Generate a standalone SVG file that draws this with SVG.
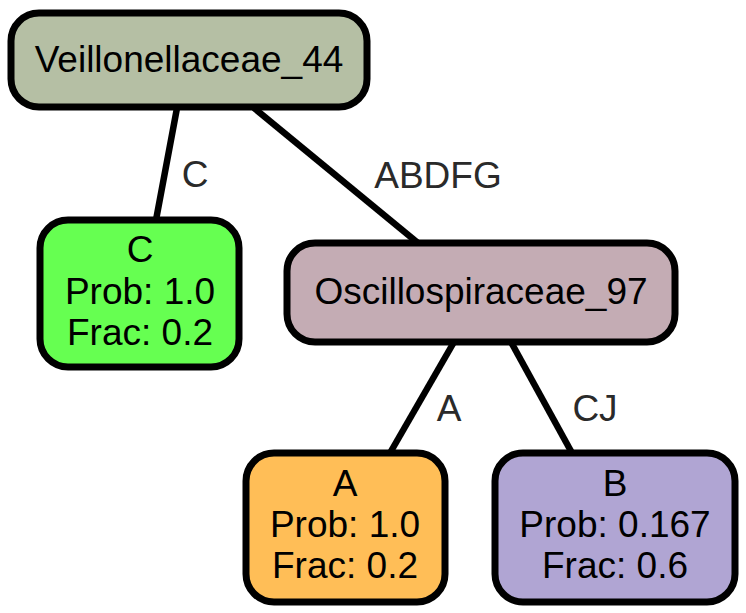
<svg xmlns="http://www.w3.org/2000/svg" width="746" height="613" viewBox="0 0 746 613">
  <style>
    .node rect { stroke: #000; stroke-width: 7; }
    .node text { font-family: "Liberation Sans", Arial, Helvetica, sans-serif; font-size: 37px; fill: #000; text-anchor: middle; }
    .edge line { stroke: #000; stroke-width: 6.5; }
    .elabel { font-family: "Liberation Sans", Arial, Helvetica, sans-serif; font-size: 37px; fill: #2a2a2a; text-anchor: middle; }
  </style>
  <rect width="746" height="613" fill="#fff"/>
  <g id="edges">
    <g class="edge">
      <line x1="177" y1="108" x2="156" y2="220"/>
      <text class="elabel" x="195" y="187">C</text>
    </g>
    <g class="edge">
      <line x1="254" y1="108" x2="418" y2="243"/>
      <text class="elabel" x="438" y="188">ABDFG</text>
    </g>
    <g class="edge">
      <line x1="454" y1="342" x2="390" y2="453"/>
      <text class="elabel" x="449" y="421">A</text>
    </g>
    <g class="edge">
      <line x1="511" y1="342" x2="572" y2="453"/>
      <text class="elabel" x="595" y="421">CJ</text>
    </g>
  </g>
  <g id="node-veillonellaceae" class="node">
    <rect x="11" y="13" width="356" height="94" rx="28" fill="#b5bfa4"/>
    <text x="189" y="72">Veillonellaceae_44</text>
  </g>
  <g id="node-c" class="node">
    <rect x="40" y="220" width="199" height="147" rx="28" fill="#66ff51"/>
    <text x="140" y="262">C</text>
    <text x="140" y="304">Prob: 1.0</text>
    <text x="140" y="345">Frac: 0.2</text>
  </g>
  <g id="node-oscillospiraceae" class="node">
    <rect x="287" y="243" width="388" height="99" rx="28" fill="#c4acb4"/>
    <text x="481" y="304">Oscillospiraceae_97</text>
  </g>
  <g id="node-a" class="node">
    <rect x="246" y="453" width="199" height="149" rx="28" fill="#ffbe57"/>
    <text x="345" y="496">A</text>
    <text x="345" y="537">Prob: 1.0</text>
    <text x="345" y="578">Frac: 0.2</text>
  </g>
  <g id="node-b" class="node">
    <rect x="495" y="453" width="240" height="149" rx="28" fill="#b0a5d3"/>
    <text x="615" y="496">B</text>
    <text x="615" y="537">Prob: 0.167</text>
    <text x="615" y="578">Frac: 0.6</text>
  </g>
</svg>
